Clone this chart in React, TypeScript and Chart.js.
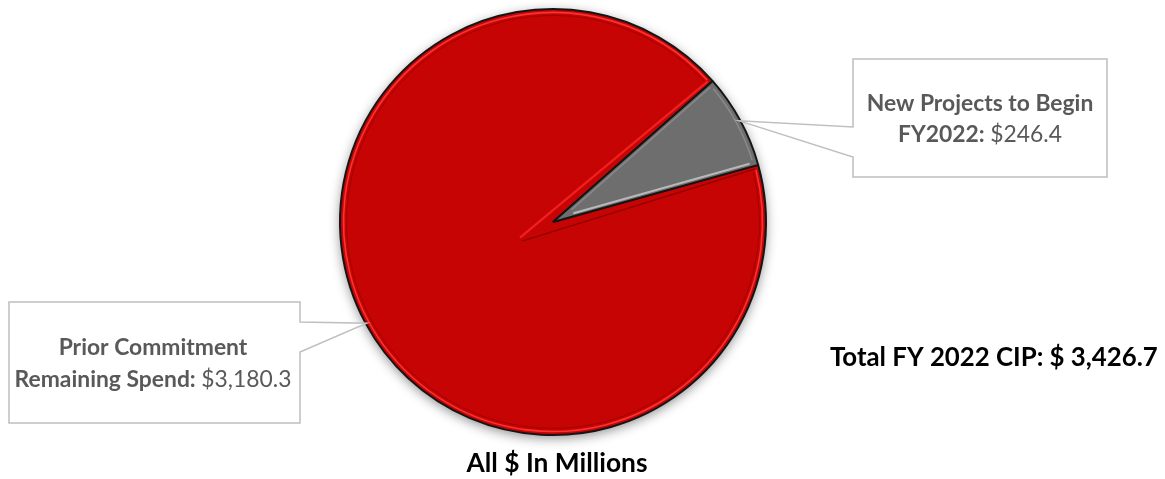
import React, { useEffect, useRef } from 'react';
import { Chart, registerables } from 'chart.js';

Chart.register(...registerables);

// ---- data ----
const categories = ['Prior Commitment Remaining Spend', 'New Projects to Begin FY2022'];
const values = [3180.3, 246.4];
const labelTitleLines = ['Prior Commitment', 'New Projects to Begin'];
const labelKeyParts = ['Remaining Spend:', 'FY2022:'];
const totalCaption = 'Total FY 2022 CIP:';
const unitCaption = 'All $ In Millions';

// ---- style ----
const sliceColors = ['#C70404', '#6E6E6E'];
const FONT = 'Lato, "Open Sans", "Liberation Sans", sans-serif';
const W = 1165;
const H = 479;
const CX = 553;
const CY = 222;
const RADIUS = 213;
const ROTATION = 74.45;

// callout boxes: [left, top, right, bottom], notch side, notch y range, text centre x, baselines
const callouts = [
  { box: [9, 302, 300, 423], side: 'right', notch: [322, 352], cx: 153, base: [355, 387] },
  { box: [853, 59, 1107, 177], side: 'left', notch: [127, 157], cx: 980, base: [111, 142] },
];

const fmt = (v: number) =>
  v.toLocaleString('en-US', { minimumFractionDigits: 1, maximumFractionDigits: 1 });

type Run = { text: string; bold: boolean };

function runsWidth(ctx: CanvasRenderingContext2D, runs: Run[], size: number) {
  let w = 0;
  for (const r of runs) {
    ctx.font = `${r.bold ? 'bold ' : ''}${size}px ${FONT}`;
    w += ctx.measureText(r.text).width;
  }
  return w;
}

function fitSize(ctx: CanvasRenderingContext2D, runs: Run[], target: number) {
  const w = runsWidth(ctx, runs, 100);
  return (100 * target) / w;
}

function drawRuns(
  ctx: CanvasRenderingContext2D,
  runs: Run[],
  x: number,
  baseline: number,
  size: number,
  color: string,
  align: 'center' | 'left'
) {
  const total = runsWidth(ctx, runs, size);
  let px = align === 'center' ? x - total / 2 : x;
  ctx.fillStyle = color;
  ctx.textAlign = 'left';
  ctx.textBaseline = 'alphabetic';
  for (const r of runs) {
    ctx.font = `${r.bold ? 'bold ' : ''}${size}px ${FONT}`;
    ctx.fillText(r.text, px, baseline);
    px += ctx.measureText(r.text).width;
  }
}

const decorPlugin = {
  id: 'decor',
  beforeDatasetsDraw(chart: any) {
    const el = chart.getDatasetMeta(0).data[0];
    if (!el) return;
    const { x, y, outerRadius } = el.getProps(['x', 'y', 'outerRadius'], true);
    const ctx: CanvasRenderingContext2D = chart.ctx;
    ctx.save();
    ctx.shadowColor = 'rgba(0,0,0,0.45)';
    ctx.shadowBlur = 12;
    ctx.shadowOffsetX = 0;
    ctx.shadowOffsetY = 3;
    ctx.beginPath();
    ctx.arc(x, y, outerRadius, 0, Math.PI * 2);
    ctx.fillStyle = '#222';
    ctx.fill();
    ctx.restore();
  },
  afterDatasetsDraw(chart: any) {
    const ctx: CanvasRenderingContext2D = chart.ctx;
    const els = chart.getDatasetMeta(0).data;
    const red = els[0].getProps(['x', 'y', 'startAngle', 'endAngle', 'outerRadius'], true);
    const grey = els[1].getProps(['x', 'y', 'startAngle', 'endAngle', 'outerRadius'], true);
    const r = red.outerRadius;
    ctx.save();
    // red rim bevel
    ctx.lineWidth = 1.6;
    ctx.strokeStyle = 'rgba(255,55,55,0.9)';
    ctx.beginPath();
    ctx.arc(red.x, red.y, r - 3.5, red.startAngle + 0.02, red.endAngle - 0.02);
    ctx.stroke();
    ctx.lineWidth = 1;
    ctx.strokeStyle = 'rgba(130,0,0,0.55)';
    ctx.beginPath();
    ctx.arc(red.x, red.y, r - 6.5, red.startAngle + 0.03, red.endAngle - 0.03);
    ctx.stroke();
    // red edges (vertex slightly past centre)
    const mid = (red.startAngle + red.endAngle) / 2;
    const sx = red.x + 36 * Math.cos(mid);
    const sy = red.y + 36 * Math.sin(mid);
    const a1 = red.endAngle;
    const p1 = a1 - Math.PI / 2;
    ctx.lineWidth = 2.2;
    ctx.strokeStyle = '#F02020';
    ctx.beginPath();
    ctx.moveTo(sx + 2 * Math.cos(p1), sy + 2 * Math.sin(p1));
    ctx.lineTo(red.x + (r - 4) * Math.cos(a1) + 3 * Math.cos(p1), red.y + (r - 4) * Math.sin(a1) + 3 * Math.sin(p1));
    ctx.stroke();
    const a0 = red.startAngle;
    const p0 = a0 + Math.PI / 2;
    ctx.lineWidth = 1.5;
    ctx.strokeStyle = 'rgba(120,0,0,0.7)';
    ctx.beginPath();
    ctx.moveTo(sx + 2 * Math.cos(p0), sy + 2 * Math.sin(p0));
    ctx.lineTo(red.x + (r - 4) * Math.cos(a0) + 3 * Math.cos(p0), red.y + (r - 4) * Math.sin(a0) + 3 * Math.sin(p0));
    ctx.stroke();
    // grey bevel
    const ge = grey.endAngle;
    const gp = ge - Math.PI / 2;
    ctx.lineWidth = 2;
    ctx.strokeStyle = '#B8B8B8';
    ctx.beginPath();
    ctx.moveTo(grey.x + 22 * Math.cos(ge) + 3 * Math.cos(gp), grey.y + 22 * Math.sin(ge) + 3 * Math.sin(gp));
    ctx.lineTo(grey.x + (r - 8) * Math.cos(ge) + 3.5 * Math.cos(gp), grey.y + (r - 8) * Math.sin(ge) + 3.5 * Math.sin(gp));
    ctx.stroke();
    const gs = grey.startAngle;
    const gq = gs + Math.PI / 2;
    ctx.lineWidth = 1.5;
    ctx.strokeStyle = '#8A8A8A';
    ctx.beginPath();
    ctx.moveTo(grey.x + 22 * Math.cos(gs) + 3 * Math.cos(gq), grey.y + 22 * Math.sin(gs) + 3 * Math.sin(gq));
    ctx.lineTo(grey.x + (r - 6) * Math.cos(gs) + 3 * Math.cos(gq), grey.y + (r - 6) * Math.sin(gs) + 3 * Math.sin(gq));
    ctx.stroke();
    ctx.beginPath();
    ctx.arc(grey.x, grey.y, r - 4.5, gs + 0.03, ge - 0.03);
    ctx.stroke();
    ctx.restore();
  },
  afterDraw(chart: any) {
    const ctx: CanvasRenderingContext2D = chart.ctx;
    const els = chart.getDatasetMeta(0).data;
    ctx.save();
    const lineRuns: Run[][] = values.map((v, i) => [
      { text: labelKeyParts[i] + ' ', bold: true },
      { text: '$' + fmt(v), bold: false },
    ]);
    const calloutSize = fitSize(ctx, lineRuns[0], 277);
    callouts.forEach((c, i) => {
      const p = els[i].getProps(['x', 'y', 'startAngle', 'endAngle', 'outerRadius'], true);
      const m = (p.startAngle + p.endAngle) / 2;
      const tx = p.x + (p.outerRadius - 1) * Math.cos(m);
      const ty = p.y + (p.outerRadius - 1) * Math.sin(m);
      const [l, t, rr, b] = c.box;
      ctx.beginPath();
      ctx.moveTo(l, t);
      ctx.lineTo(rr, t);
      if (c.side === 'right') {
        ctx.lineTo(rr, c.notch[0]);
        ctx.lineTo(tx, ty);
        ctx.lineTo(rr, c.notch[1]);
        ctx.lineTo(rr, b);
        ctx.lineTo(l, b);
        ctx.closePath();
      } else {
        ctx.lineTo(rr, b);
        ctx.lineTo(l, b);
        ctx.lineTo(l, c.notch[1]);
        ctx.lineTo(tx, ty);
        ctx.lineTo(l, c.notch[0]);
        ctx.closePath();
      }
      ctx.fillStyle = '#FFFFFF';
      ctx.fill();
      ctx.lineWidth = 1.5;
      ctx.strokeStyle = '#BFBFBF';
      ctx.stroke();
      drawRuns(ctx, [{ text: labelTitleLines[i], bold: true }], c.cx, c.base[0], calloutSize, '#595959', 'center');
      drawRuns(ctx, lineRuns[i], c.cx, c.base[1], calloutSize, '#595959', 'center');
    });
    const total = values.reduce((a, b) => a + b, 0);
    const totalRuns: Run[] = [{ text: `${totalCaption} $ ${fmt(total)}`, bold: true }];
    const totalSize = fitSize(ctx, totalRuns, 328);
    drawRuns(ctx, totalRuns, 830, 366, totalSize, '#000000', 'left');
    const unitRuns: Run[] = [{ text: unitCaption, bold: true }];
    const unitSize = fitSize(ctx, unitRuns, 181);
    drawRuns(ctx, unitRuns, 557, 472, unitSize, '#000000', 'center');
    ctx.restore();
  },
};

export default function App() {
  const ref = useRef<HTMLCanvasElement | null>(null);
  useEffect(() => {
    if (!ref.current) return;
    const chart = new Chart(ref.current, {
      type: 'pie',
      data: {
        labels: categories,
        datasets: [
          {
            data: values,
            backgroundColor: sliceColors,
            borderColor: '#151515',
            borderWidth: 2,
          },
        ],
      },
      options: {
        animation: false,
        responsive: true,
        maintainAspectRatio: false,
        rotation: ROTATION,
        radius: RADIUS,
        layout: { padding: { left: 0, top: 0, right: W - 2 * CX, bottom: H - 2 * CY } },
        plugins: { legend: { display: false }, tooltip: { enabled: false } },
      },
      plugins: [decorPlugin],
    } as any);
    return () => chart.destroy();
  }, []);
  return (
    <div style={{ position: 'absolute', left: 0, top: 0, width: W, height: H, background: '#fff' }}>
      <canvas ref={ref} />
    </div>
  );
}
